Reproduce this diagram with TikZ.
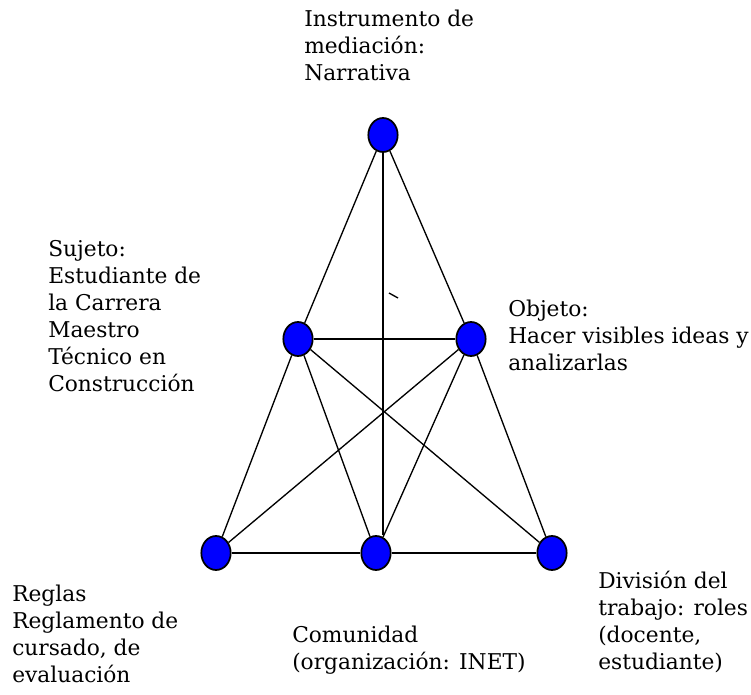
\documentclass[tikz,border=0pt]{standalone}
\usepackage{fontspec}
\setmainfont{DejaVu Serif}
\definecolor{verticeazul}{RGB}{0, 0, 255}
\usetikzlibrary{shapes, positioning}

\begin{document}
\begin{tikzpicture}[x=0.75pt, y=-0.75pt,
    vertice/.style={draw, ellipse, line width=1.3pt, fill=verticeazul,
                    minimum width=22pt, minimum height=25.5pt, inner sep=0pt},
    etiqueta/.style={anchor=north west, inner sep=0pt, align=left,
                     font=\fontsize{16.3}{20.2}\selectfont},
    lado/.style={line width=1pt},
    base/.style={line width=1.6pt},
    eje/.style={line width=2.2pt}]
\useasboundingbox (0,0) rectangle (751,695);

% vertices del triangulo
\node[vertice] (medio)     at (383,135) {};
\node[vertice] (sujeto)    at (298,339) {};
\node[vertice] (objeto)    at (471,339) {};
\node[vertice] (reglas)    at (216,553) {};
\node[vertice] (comunidad) at (376,553) {};
\node[vertice] (division)  at (552,553) {};

% lados
\draw[lado] (medio) -- (sujeto);
\draw[lado] (medio) -- (objeto);
\draw[eje]  (medio) -- (medio |- comunidad.north);
\draw[eje]  (sujeto) -- (objeto);
\draw[lado] (sujeto) -- (reglas);
\draw[lado] (sujeto) -- (comunidad);
\draw[lado] (sujeto) -- (division);
\draw[lado] (objeto) -- (reglas);
\draw[lado] (objeto) -- (comunidad);
\draw[lado] (objeto) -- (division);
\draw[base] (reglas) -- (comunidad);
\draw[base] (comunidad) -- (division);
\draw[lado] (389,293) -- (398,298);

% textos
\node[etiqueta] (tmedio) at (304,10) {Instrumento de\\mediación:\\Narrativa};
\node[etiqueta] (tsujeto) at (48,240) {Sujeto:\\Estudiante de\\la Carrera\\Maestro\\Técnico en\\Construcción};
\node[etiqueta] (tobjeto) at (508,300) {Objeto:\\Hacer visibles ideas y\\analizarlas};
\node[etiqueta] (treglas) at (12,585) {Reglas\\Reglamento de\\cursado, de\\evaluación};
\node[etiqueta] (tcomunidad) at (292,626) {Comunidad\\(organización: INET)};
\node[etiqueta] (tdivision) at (598,571) {División del\\trabajo: roles\\(docente,\\estudiante)};
\end{tikzpicture}
\end{document}
